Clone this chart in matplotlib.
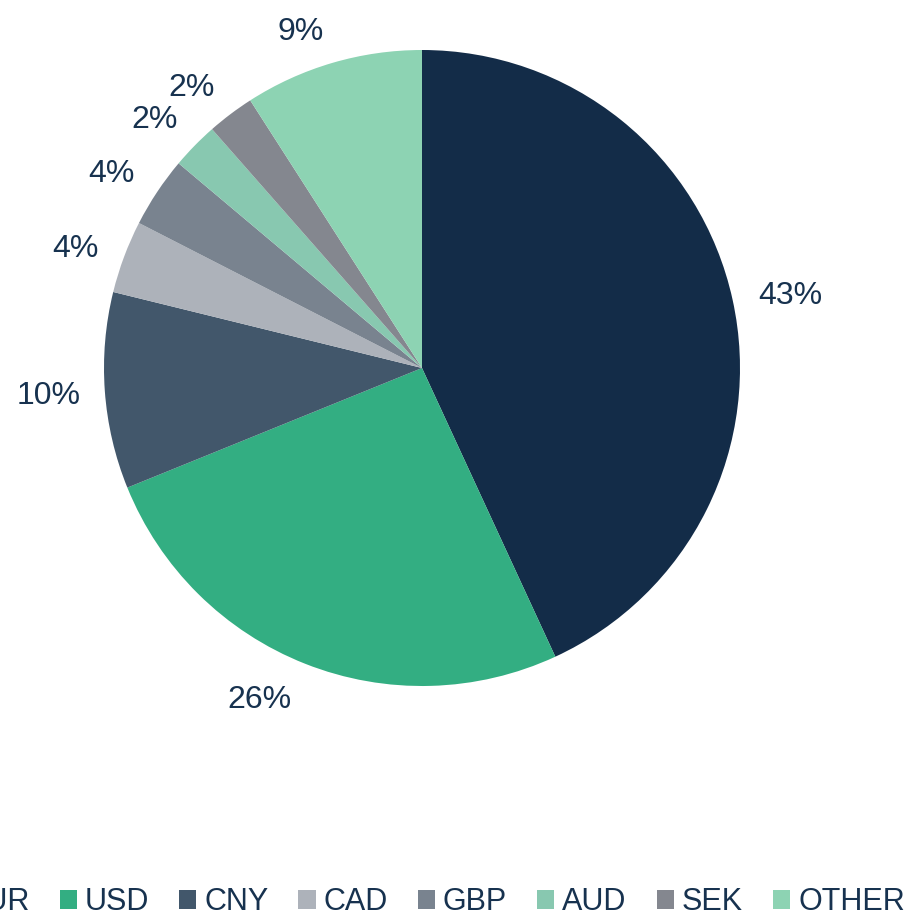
import numpy as np
import matplotlib
matplotlib.use('Agg')
import matplotlib.pyplot as plt
from matplotlib.patches import Patch

plt.rcParams['font.family'] = ['Liberation Sans', 'DejaVu Sans']

# currency share of the portfolio (percent)
currencies = ['EUR', 'USD', 'CNY', 'CAD', 'GBP', 'AUD', 'SEK', 'OTHER']
shares = [43.2, 25.8, 10.0, 3.7, 3.6, 2.4, 2.4, 9.1]
colors = ['#132c48', '#33ae82', '#42576b', '#adb2ba',
          '#79838f', '#88c8b0', '#84878f', '#8dd3b3']
text_color = '#17324f'

# small angular nudges (deg) so labels sit like the original's
label_nudge = [-0.8, -4.8, -0.3, 1.0, 1.2, 1.1, 2.1, 3.4]

W, H = 908, 911
fig = plt.figure(figsize=(W / 100, H / 100), dpi=100)

# pie centre ~ (422, 368) px, radius ~318 px
cx, cy, r = 422, 368, 318
ax = fig.add_axes([(cx - r) / W, (H - cy - r) / H, 2 * r / W, 2 * r / H])

fs = 23
wedges, texts, autotexts = ax.pie(
    shares, colors=colors, startangle=90, counterclock=False,
    autopct=lambda p: '{:.0f}%'.format(p), pctdistance=1.16,
    wedgeprops=dict(linewidth=0),
    textprops=dict(color=text_color, fontsize=fs))
ax.set_xlim(-1, 1)
ax.set_ylim(-1, 1)
ax.set_aspect('equal')

# put each label just outside the rim, like "outside end" labels
renderer = fig.canvas.get_renderer()
cap = 0.716 * fs * 100 / 72.0   # cap height in px
gap = 24
for w, t, nudge in zip(wedges, autotexts, label_nudge):
    th = np.deg2rad((w.theta1 + w.theta2) / 2 + nudge)
    tw = t.get_window_extent(renderer).width
    d = r + gap + tw / 2 * abs(np.cos(th)) + cap / 2 * abs(np.sin(th))
    x = d * np.cos(th) / r
    y = (d * np.sin(th) - cap / 2) / r
    t.set_position((x, y))
    t.set_va('baseline')
    t.set_ha('center')

handles = [Patch(facecolor=c, edgecolor='none') for c in colors]
fig.legend(handles, currencies, ncol=len(currencies), frameon=False,
           loc='lower left', bbox_to_anchor=(-60 / W, -6 / H),
           fontsize=22, labelcolor=text_color,
           handlelength=0.56, handleheight=0.56, handletextpad=0.26,
           columnspacing=0.985, borderpad=0, borderaxespad=0)

fig.savefig('out.png', dpi=100)
